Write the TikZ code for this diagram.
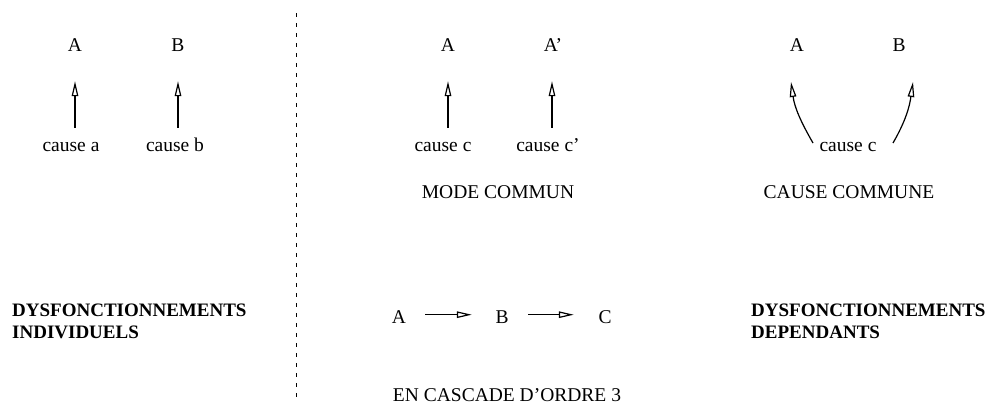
\documentclass[tikz,border=0pt]{standalone}
\usepackage{fontspec}
\setmainfont{Liberation Serif}
\usetikzlibrary{arrows.meta}
\begin{document}
\begin{tikzpicture}[x=1pt,y=-1pt,
  lbl/.style={inner sep=0pt, text height=14pt, text depth=4pt, anchor=base, font=\fontsize{19.5}{22}\selectfont},
  ttl/.style={inner sep=0pt, anchor=base west, align=left, font=\fontsize{19}{22}\selectfont\bfseries},
  arr/.style={line width=1.2pt, -{Triangle[open,length=15pt,width=6.5pt,line width=1.2pt]}},
  sepline/.style={line width=0.8pt, dash pattern=on 4pt off 6pt}]
\useasboundingbox[fill=white] (0,0) rectangle (986,405);

% separator
\draw[sepline] (296,13) -- (296,401);

% individual failures
\node[lbl] (A1) at (75,51.5) {A};
\node[lbl] (B1) at (178,51.5) {B};
\node[lbl] (ca) at (71,151.5) {cause a};
\node[lbl] (cb) at (175,151.5) {cause b};
\draw[arr, shorten <=9.5pt, shorten >=25.5pt] (A1.south |- ca.north) -- (A1.south);
\draw[arr, shorten <=9.5pt, shorten >=25.5pt] (B1.south |- cb.north) -- (B1.south);
\node[ttl] (di) at (12,338.5) {DYSFONCTIONNEMENTS\\INDIVIDUELS};

% common mode
\node[lbl] (A2) at (448,51.5) {A};
\node[lbl] (A2p) at (553,51.5) {A’};
\node[lbl] (cc) at (443,151.5) {cause c};
\node[lbl] (ccp) at (548,151.5) {cause c’};
\draw[arr, shorten <=9.5pt, shorten >=25.5pt] (A2.south |- cc.north) -- (A2.south);
\draw[arr, shorten <=9.5pt, shorten >=25.5pt] ([xshift=-1pt]A2p.south |- ccp.north) -- ([xshift=-1pt]A2p.south);
\node[lbl] (mc) at (498,198.5) {MODE COMMUN};

% common cause
\node[lbl] (A3) at (797,51.5) {A};
\node[lbl] (B3) at (899,51.5) {B};
\node[lbl] (c3) at (848,151.5) {cause c};
\coordinate (s3a) at (813,143);
\coordinate (t3a) at (791,82);
\coordinate (s3b) at (893,143);
\coordinate (t3b) at (913,82);
\draw[arr] (s3a) to[out=120,in=-82] (t3a);
\draw[arr] (s3b) to[out=60,in=-98] (t3b);
\node[lbl] (ccom) at (849,198.5) {CAUSE COMMUNE};
\node[ttl] (dd) at (751,338.5) {DYSFONCTIONNEMENTS\\DEPENDANTS};

% cascade
\node[lbl] (A4) at (399,323.5) {A};
\node[lbl] (B4) at (502,323.5) {B};
\node[lbl] (C4) at (605,323.5) {C};
\draw[arr, shorten <=19pt, shorten >=23.5pt] ([yshift=3.8pt]A4.east) -- ([yshift=3.8pt]B4.west);
\draw[arr, shorten <=19.5pt, shorten >=24.5pt] ([yshift=3.8pt]B4.east) -- ([yshift=3.8pt]C4.west);
\node[lbl] (cas) at (507,401.5) {EN CASCADE D’ORDRE 3};
\end{tikzpicture}
\end{document}
